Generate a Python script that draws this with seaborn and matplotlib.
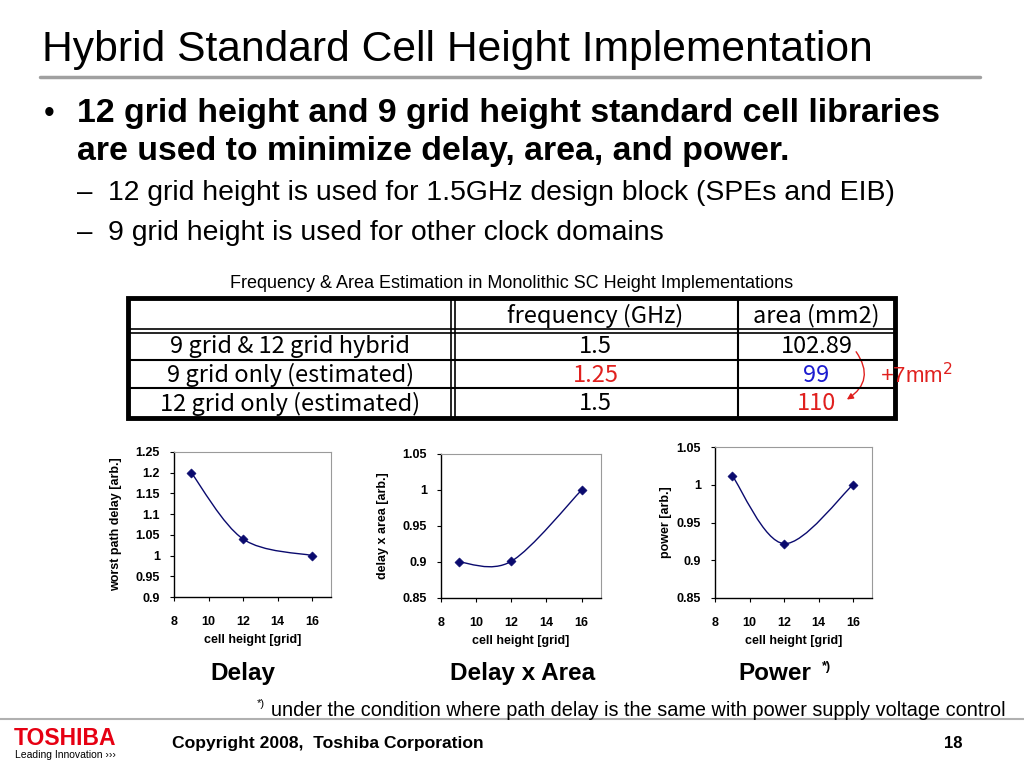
import matplotlib
matplotlib.use("Agg")
import matplotlib.pyplot as plt
import numpy as np
import pandas as pd
import seaborn as sns
from matplotlib.path import Path
from matplotlib.patches import PathPatch, FancyArrowPatch

# ---- data -------------------------------------------------------------
cell_height = [9, 12, 16]
delay = [1.20, 1.04, 1.00]
delay_x_area = [0.900, 0.901, 1.000]
power = [1.012, 0.922, 1.000]

table_rows = ["9 grid & 12 grid hybrid", "9 grid only (estimated)", "12 grid only (estimated)"]
table_cols = ["frequency (GHz)", "area (mm2)"]
freq_ghz = ["1.5", "1.25", "1.5"]
area_mm2 = ["102.89", "99", "110"]

# ---- style ------------------------------------------------------------
sns.set_theme(style="white")
plt.rcParams["font.family"] = ["Liberation Sans", "DejaVu Sans"]
plt.rcParams["text.color"] = "black"
plt.rcParams["axes.labelcolor"] = "black"
plt.rcParams["xtick.color"] = "black"
plt.rcParams["ytick.color"] = "black"
TABLE_FONT = ["Noto Sans CJK JP", "DejaVu Sans"]
NAVY = "#0a0a6e"
RED = "#e0201e"
BLUE = "#1c1cd0"
freq_colors = ["black", RED, "black"]
area_colors = ["black", BLUE, RED]

W, H = 1024, 768
fig = plt.figure(figsize=(W / 100, H / 100), dpi=100)


def fx(px):
    return px / W


def fy(py):
    return 1 - py / H


def smooth_path(xs, ys):
    # Excel-like smoothed line: cubic bezier with catmull-rom tangents
    pts = np.column_stack([xs, ys]).astype(float)
    n = len(pts)
    verts, codes = [pts[0]], [Path.MOVETO]
    for i in range(n - 1):
        p_prev, p0, p1 = pts[max(i - 1, 0)], pts[i], pts[i + 1]
        p_next = pts[min(i + 2, n - 1)]
        verts += [p0 + (p1 - p_prev) / 6, p1 - (p_next - p0) / 6, p1]
        codes += [Path.CURVE4] * 3
    return Path(verts, codes)


# ---- header text ------------------------------------------------------
fig.text(fx(42), fy(61), "Hybrid Standard Cell Height Implementation",
         fontsize=30.7, va="baseline", ha="left")
fig.add_artist(plt.Line2D([fx(40), fx(980)], [fy(77), fy(77)], color="#a0a0a0", lw=2.5))

fig.text(fx(44), fy(122), "\u2022", fontsize=22, va="baseline")
fig.text(fx(77), fy(122), "12 grid height and 9 grid height standard cell libraries",
         fontsize=24.4, fontweight="bold", va="baseline")
fig.text(fx(77), fy(160), "are used to minimize delay, area, and power.",
         fontsize=24.4, fontweight="bold", va="baseline")
fig.text(fx(77), fy(200), "\u2013", fontsize=20, va="baseline")
fig.text(fx(108), fy(200), "12 grid height is used for 1.5GHz design block (SPEs and EIB)",
         fontsize=20.4, va="baseline")
fig.text(fx(77), fy(240), "\u2013", fontsize=20, va="baseline")
fig.text(fx(108), fy(240), "9 grid height is used for other clock domains",
         fontsize=20.4, va="baseline")

fig.text(fx(512), fy(288), "Frequency & Area Estimation in Monolithic SC Height Implementations",
         fontsize=13, ha="center", va="baseline")

# ---- table ------------------------------------------------------------
tx0, tx1, ty0, ty1 = 128, 895, 298, 418
tax = fig.add_axes([fx(tx0), fy(ty1), (tx1 - tx0) / W, (ty1 - ty0) / H])
tax.set_xlim(0, tx1 - tx0)
tax.set_ylim(ty1 - ty0, 0)
tax.axis("off")
col_edges = [0, 325, 610, tx1 - tx0]
row_edges = [0, 33, 62, 90, ty1 - ty0]

for yv in row_edges[2:-1]:
    tax.plot([0, col_edges[-1]], [yv, yv], color="black", lw=1.5)
for yv in (row_edges[1] - 2, row_edges[1] + 2):
    tax.plot([0, col_edges[-1]], [yv, yv], color="black", lw=1.2)
for xv in (col_edges[1] - 2, col_edges[1] + 2):
    tax.plot([xv, xv], [0, row_edges[-1]], color="black", lw=1.2)
tax.plot([col_edges[2]] * 2, [0, row_edges[-1]], color="black", lw=1.5)
tax.add_patch(plt.Rectangle((0, 0), col_edges[-1], row_edges[-1], fill=False,
                            ec="black", lw=3.5, clip_on=False))

col_mid = [(col_edges[i] + col_edges[i + 1]) / 2 for i in range(3)]
row_mid = [(row_edges[i] + row_edges[i + 1]) / 2 for i in range(4)]
for j, name in enumerate(table_cols):
    tax.text(col_mid[j + 1], row_mid[0] + 1, name, ha="center", va="center",
             fontsize=17, family=TABLE_FONT)
for i, name in enumerate(table_rows):
    tax.text(col_mid[0], row_mid[i + 1] + 1, name, ha="center", va="center",
             fontsize=17, family=TABLE_FONT)
    tax.text(col_mid[1], row_mid[i + 1] + 1, freq_ghz[i], ha="center", va="center",
             fontsize=17, family=TABLE_FONT, color=freq_colors[i])
    tax.text(col_mid[2], row_mid[i + 1] + 1, area_mm2[i], ha="center", va="center",
             fontsize=17, family=TABLE_FONT, color=area_colors[i])

arrow = FancyArrowPatch((col_mid[2] + 38, row_mid[1] + 4), (col_mid[2] + 28, row_mid[3] - 2),
                        connectionstyle="arc3,rad=-0.55", arrowstyle="-|>",
                        mutation_scale=9, color=RED, lw=1.0, clip_on=False)
tax.add_patch(arrow)
fig.text(fx(880), fy(383), "+7mm$^2$", color=RED, fontsize=16, va="baseline")

# ---- small charts -----------------------------------------------------
panels = [
    # (x0, x1, y0, y1) in pixels, values, ylim, yticks, ylabel, label x offset
    ((174, 331, 452, 597), delay, (0.9, 1.25), [0.9, 0.95, 1, 1.05, 1.1, 1.15, 1.2, 1.25],
     "worst path delay [arb.]", 58),
    ((441, 601, 454, 598), delay_x_area, (0.85, 1.05), [0.85, 0.9, 0.95, 1, 1.05],
     "delay x area [arb.]", 58),
    ((715, 872, 447, 598), power, (0.85, 1.05), [0.85, 0.9, 0.95, 1, 1.05],
     "power [arb.]", 49),
]
for (x0, x1, y0, y1), vals, ylim, yticks, ylab, off in panels:
    ax = fig.add_axes([fx(x0), fy(y1), (x1 - x0) / W, (y1 - y0) / H])
    df = pd.DataFrame({"h": cell_height, "v": vals})
    ax.add_patch(PathPatch(smooth_path(df["h"], df["v"]), fill=False, ec=NAVY, lw=1.0))
    sns.scatterplot(data=df, x="h", y="v", marker="D", s=22, color=NAVY,
                    edgecolor=NAVY, ax=ax, zorder=3)
    ax.set_xlim(8, 17.1)
    ax.set_ylim(*ylim)
    ax.set_xticks([8, 10, 12, 14, 16])
    ax.set_yticks(yticks)
    ax.set_yticklabels([f"{v:g}" for v in yticks])
    for s in ("top", "right"):
        ax.spines[s].set_color("#9a9a9a")
        ax.spines[s].set_linewidth(0.8)
    for s in ("left", "bottom"):
        ax.spines[s].set_color("black")
        ax.spines[s].set_linewidth(1.0)
    ax.tick_params(axis="y", direction="out", length=3, width=0.8, color="black",
                   labelsize=9, pad=7, left=True)
    ax.tick_params(axis="x", direction="out", length=3, width=0.8, color="black",
                   labelsize=9, pad=11, bottom=True)
    for lab in ax.get_xticklabels() + ax.get_yticklabels():
        lab.set_fontweight("bold")
    ax.set_xlabel("cell height [grid]", fontsize=9, fontweight="bold", labelpad=4)
    ax.set_ylabel(ylab, fontsize=9, fontweight="bold", va="center")
    ax.yaxis.set_label_coords(-off / (x1 - x0), 0.5)
    ax.set_facecolor("white")

fig.text(fx(243), fy(680), "Delay", fontsize=17.5, fontweight="bold", ha="center", va="baseline")
fig.text(fx(523), fy(680), "Delay x Area", fontsize=17.5, fontweight="bold", ha="center", va="baseline")
fig.text(fx(775), fy(680), "Power", fontsize=17.5, fontweight="bold", ha="center", va="baseline")
fig.text(fx(822), fy(670), "*)", fontsize=9, fontweight="bold", va="baseline")

# ---- footnote & footer ------------------------------------------------
fig.text(fx(257), fy(707), "*)", fontsize=8, va="baseline")
fig.text(fx(271), fy(716),
         "under the condition where path delay is the same with power supply voltage control",
         fontsize=14.3, va="baseline")
fig.add_artist(plt.Line2D([0, 1], [fy(719), fy(719)], color="#b0b0b0", lw=1.5))

fig.text(fx(14), fy(745), "TOSHIBA", color="#e60012", fontsize=16.5, fontweight="heavy",
         va="baseline")
fig.text(fx(15), fy(758), "Leading Innovation \u203a\u203a\u203a", fontsize=7.5,
         va="baseline")
fig.text(fx(172), fy(748), "Copyright 2008,  Toshiba Corporation", fontsize=12.6,
         fontweight="bold", va="baseline")
fig.text(fx(944), fy(748), "18", fontsize=12, fontweight="bold", va="baseline")

fig.savefig("out.png", dpi=100, facecolor="white")
